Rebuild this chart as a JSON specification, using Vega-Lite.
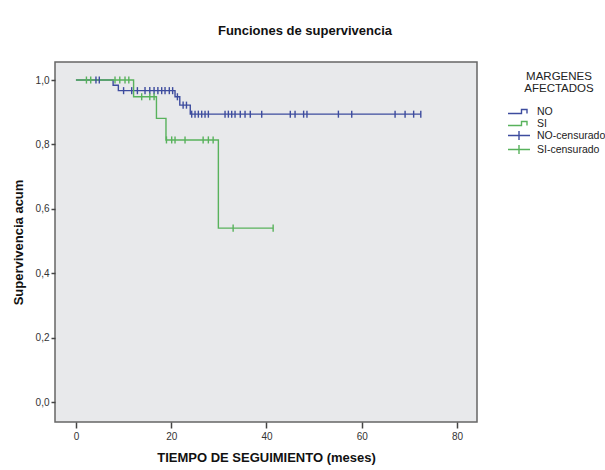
{
  "$schema": "https://vega.github.io/schema/vega-lite/v6.json",
  "width": 422,
  "height": 360,
  "autosize": {"type": "none"},
  "padding": {"left": 55, "top": 62, "right": 128, "bottom": 48},
  "background": "white",
  "config": {
    "font": "Liberation Sans",
    "view": {"fill": "#e8e9eb", "stroke": "#666666", "strokeWidth": 1.5}
  },
  "title": {
    "text": "Funciones de supervivencia",
    "fontSize": 13,
    "fontWeight": "bold",
    "color": "#111111",
    "anchor": "middle",
    "dx": 39,
    "offset": 24
  },
  "datasets": {
    "curves": [
      {"grupo": "NO", "t": 0, "s": 1.0},
      {"grupo": "NO", "t": 7.8, "s": 0.984},
      {"grupo": "NO", "t": 8.9, "s": 0.967},
      {"grupo": "NO", "t": 20.8, "s": 0.948},
      {"grupo": "NO", "t": 21.8, "s": 0.922},
      {"grupo": "NO", "t": 24.0, "s": 0.894},
      {"grupo": "NO", "t": 72.4, "s": 0.894},
      {"grupo": "SI", "t": 0, "s": 1.0},
      {"grupo": "SI", "t": 12.1, "s": 0.948},
      {"grupo": "SI", "t": 16.9, "s": 0.881},
      {"grupo": "SI", "t": 18.9, "s": 0.814},
      {"grupo": "SI", "t": 29.9, "s": 0.54},
      {"grupo": "SI", "t": 41.4, "s": 0.54}
    ],
    "censored": [
      {"grupo": "NO-censurado", "t": 4.2, "s": 1.0},
      {"grupo": "NO-censurado", "t": 4.9, "s": 1.0},
      {"grupo": "NO-censurado", "t": 10.0, "s": 0.967},
      {"grupo": "NO-censurado", "t": 11.7, "s": 0.967},
      {"grupo": "NO-censurado", "t": 12.9, "s": 0.967},
      {"grupo": "NO-censurado", "t": 14.5, "s": 0.967},
      {"grupo": "NO-censurado", "t": 15.5, "s": 0.967},
      {"grupo": "NO-censurado", "t": 16.4, "s": 0.967},
      {"grupo": "NO-censurado", "t": 17.2, "s": 0.967},
      {"grupo": "NO-censurado", "t": 18.0, "s": 0.967},
      {"grupo": "NO-censurado", "t": 18.7, "s": 0.967},
      {"grupo": "NO-censurado", "t": 19.6, "s": 0.967},
      {"grupo": "NO-censurado", "t": 20.3, "s": 0.967},
      {"grupo": "NO-censurado", "t": 21.3, "s": 0.948},
      {"grupo": "NO-censurado", "t": 22.5, "s": 0.922},
      {"grupo": "NO-censurado", "t": 23.2, "s": 0.922},
      {"grupo": "NO-censurado", "t": 24.3, "s": 0.894},
      {"grupo": "NO-censurado", "t": 25.0, "s": 0.894},
      {"grupo": "NO-censurado", "t": 25.7, "s": 0.894},
      {"grupo": "NO-censurado", "t": 26.4, "s": 0.894},
      {"grupo": "NO-censurado", "t": 27.1, "s": 0.894},
      {"grupo": "NO-censurado", "t": 27.8, "s": 0.894},
      {"grupo": "NO-censurado", "t": 31.3, "s": 0.894},
      {"grupo": "NO-censurado", "t": 32.0, "s": 0.894},
      {"grupo": "NO-censurado", "t": 32.7, "s": 0.894},
      {"grupo": "NO-censurado", "t": 33.4, "s": 0.894},
      {"grupo": "NO-censurado", "t": 34.5, "s": 0.894},
      {"grupo": "NO-censurado", "t": 35.5, "s": 0.894},
      {"grupo": "NO-censurado", "t": 36.6, "s": 0.894},
      {"grupo": "NO-censurado", "t": 39.0, "s": 0.894},
      {"grupo": "NO-censurado", "t": 45.0, "s": 0.894},
      {"grupo": "NO-censurado", "t": 46.0, "s": 0.894},
      {"grupo": "NO-censurado", "t": 47.8, "s": 0.894},
      {"grupo": "NO-censurado", "t": 48.5, "s": 0.894},
      {"grupo": "NO-censurado", "t": 55.1, "s": 0.894},
      {"grupo": "NO-censurado", "t": 57.9, "s": 0.894},
      {"grupo": "NO-censurado", "t": 67.0, "s": 0.894},
      {"grupo": "NO-censurado", "t": 69.1, "s": 0.894},
      {"grupo": "NO-censurado", "t": 70.9, "s": 0.894},
      {"grupo": "NO-censurado", "t": 72.4, "s": 0.894},
      {"grupo": "SI-censurado", "t": 2.2, "s": 1.0},
      {"grupo": "SI-censurado", "t": 3.1, "s": 1.0},
      {"grupo": "SI-censurado", "t": 8.2, "s": 1.0},
      {"grupo": "SI-censurado", "t": 9.2, "s": 1.0},
      {"grupo": "SI-censurado", "t": 10.3, "s": 1.0},
      {"grupo": "SI-censurado", "t": 11.1, "s": 1.0},
      {"grupo": "SI-censurado", "t": 13.8, "s": 0.948},
      {"grupo": "SI-censurado", "t": 15.5, "s": 0.948},
      {"grupo": "SI-censurado", "t": 16.4, "s": 0.948},
      {"grupo": "SI-censurado", "t": 19.0, "s": 0.814},
      {"grupo": "SI-censurado", "t": 20.1, "s": 0.814},
      {"grupo": "SI-censurado", "t": 20.8, "s": 0.814},
      {"grupo": "SI-censurado", "t": 22.9, "s": 0.814},
      {"grupo": "SI-censurado", "t": 26.7, "s": 0.814},
      {"grupo": "SI-censurado", "t": 27.8, "s": 0.814},
      {"grupo": "SI-censurado", "t": 28.8, "s": 0.814},
      {"grupo": "SI-censurado", "t": 33.0, "s": 0.54},
      {"grupo": "SI-censurado", "t": 41.4, "s": 0.54}
    ]
  },
  "encoding": {
    "x": {
      "field": "t",
      "type": "quantitative",
      "scale": {"domain": [-4.4, 84.2], "nice": false, "zero": false},
      "axis": {
        "title": "TIEMPO DE SEGUIMIENTO (meses)",
        "titleFontSize": 13,
        "titleFontWeight": "bold",
        "titleColor": "#111111",
        "titlePadding": 10,
        "values": [0, 20, 40, 60, 80],
        "grid": false,
        "domain": false,
        "tickColor": "#444444",
        "tickSize": 6,
        "tickWidth": 1.5,
        "labelFontSize": 10,
        "labelColor": "#333333",
        "labelPadding": 3
      }
    },
    "y": {
      "field": "s",
      "type": "quantitative",
      "scale": {"domain": [-0.062, 1.056], "nice": false, "zero": false},
      "axis": {
        "title": "Supervivencia acum",
        "titleFontSize": 13,
        "titleFontWeight": "bold",
        "titleColor": "#111111",
        "titlePadding": 10,
        "values": [0, 0.2, 0.4, 0.6, 0.8, 1.0],
        "labelExpr": "replace(format(datum.value, '.1f'), '.', ',')",
        "grid": false,
        "domain": false,
        "tickColor": "#444444",
        "tickSize": 4,
        "tickWidth": 1.5,
        "labelFontSize": 10,
        "labelColor": "#333333",
        "labelPadding": 2
      }
    },
    "color": {
      "field": "grupo",
      "type": "nominal",
      "scale": {
        "domain": ["NO", "SI", "NO-censurado", "SI-censurado"],
        "range": ["#3d4c9e", "#58b25c", "#3d4c9e", "#58b25c"]
      },
      "legend": {
        "title": ["MARGENES", "AFECTADOS"],
        "orient": "none",
        "legendX": 458,
        "legendY": 9,
        "titleFontSize": 11.5,
        "titleFontWeight": "normal",
        "titleColor": "#222222",
        "titleAnchor": "middle",
        "titleAlign": "center",
        "titleLineHeight": 12,
        "titlePadding": 11,
        "labelFontSize": 10.5,
        "labelColor": "#222222",
        "labelOffset": 12,
        "symbolSize": 100,
        "symbolStrokeWidth": 1.4,
        "symbolFillColor": "transparent",
        "rowPadding": -2,
        "symbolOffset": 0,
        "encode": {
          "symbols": {
            "update": {
              "shape": {"signal": "indexof(['NO','SI'], datum.value) >= 0 ? 'M-2.2,0.4L0.5,0.4L0.5,-0.4L1.6,-0.4L1.6,0.4' : 'M-2.2,0L2.2,0M0,-0.9L0,0.9'"},
              "fill": {"value": "transparent"},
              "strokeWidth": {"value": 1.4}
            }
          }
        }
      }
    }
  },
  "layer": [
    {
      "data": {"name": "curves"},
      "mark": {"type": "line", "interpolate": "step-after", "strokeWidth": 1.4}
    },
    {
      "data": {"name": "censored"},
      "mark": {"type": "point", "filled": false, "shape": "M0,-1L0,1", "size": 50, "strokeWidth": 1.4, "opacity": 1}
    }
  ]
}
